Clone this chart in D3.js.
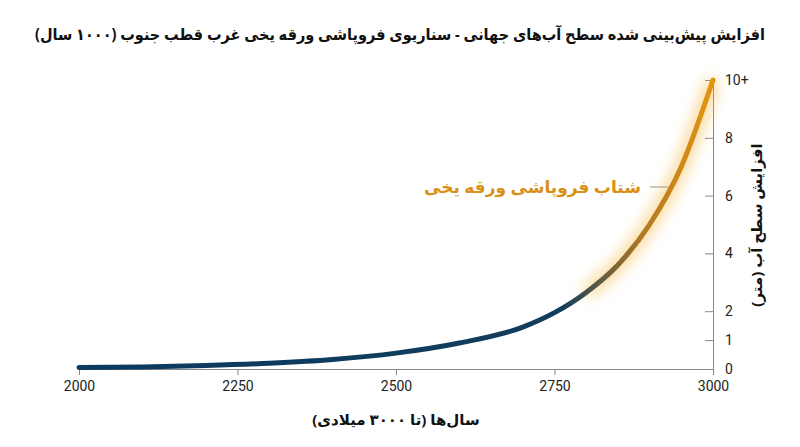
<!DOCTYPE html>
<html><head><meta charset="utf-8">
<script src="https://cdn.jsdelivr.net/npm/d3@7"></script>
<style>
body{margin:0;background:#fff;}
text{font-family:"Noto Sans","DejaVu Sans",sans-serif;}
</style></head>
<body><svg id="chart" width="800" height="447"></svg>
<script>
// data
var years = [2000,2100,2200,2300,2400,2500,2600,2700,2750,2800,2850,2900,2950,3000];
var rise = [0.05,0.07,0.12,0.2,0.33,0.55,0.9,1.45,1.95,2.65,3.6,5.0,7.0,10];
var xTicks = [2000,2250,2500,2750,3000];
var yTicks = [0,1,2,4,6,8,10];
var yTickLabels = ['0','1','2','4','6','8','10+'];

var svg = d3.select('#chart');
var x = d3.scaleLinear().domain([2000,3000]).range([79,713]);
var y = d3.scaleLinear().domain([0,10]).range([369,80]);

var title = svg.append('text').attr('x',400).attr('y',40).attr('text-anchor','middle')
	.attr('direction','rtl').style('font-size','16px').style('font-weight','bold').attr('fill','#111')
	.text('افزایش پیش‌بینی شده سطح آب‌های جهانی - سناریوی فروپاشی ورقه یخی غرب قطب جنوب (۱۰۰۰ سال)');
if (title.node().getComputedTextLength() > 730)
	title.attr('textLength',730).attr('lengthAdjust','spacingAndGlyphs');

// axes
var gx = svg.append('g').attr('transform','translate(0,369)')
	.call(d3.axisBottom(x).tickValues(xTicks).tickFormat(d3.format('d')).tickSize(6).tickPadding(6));
var gy = svg.append('g').attr('transform','translate(713,0)')
	.call(d3.axisRight(y).tickValues(yTicks).tickFormat(function(d,i){ return yTickLabels[i]; }).tickSize(-8).tickPadding(12));
[gx,gy].forEach(function(g){
	g.select('.domain').attr('stroke','#888');
	g.selectAll('.tick line').attr('stroke','#888');
	g.selectAll('.tick text').style('font-size','14px').attr('fill','#222').style('font-family','Roboto');
});

svg.append('text').attr('x',396).attr('y',425).attr('text-anchor','middle').attr('direction','rtl')
	.style('font-size','15px').style('font-weight','bold').attr('fill','#111')
	.text('سال‌ها (تا ۳۰۰۰ میلادی)');
svg.append('text').attr('transform','translate(762,225) rotate(-90)').attr('text-anchor','middle').attr('direction','rtl')
	.style('font-size','15px').style('font-weight','bold').attr('fill','#111')
	.text('افزایش سطح آب (متر)');

// gradient + glow
var defs = svg.append('defs');
var grad = defs.append('linearGradient').attr('id','lineGrad').attr('gradientUnits','userSpaceOnUse')
	.attr('x1',x(2000)).attr('x2',x(3000)).attr('y1',0).attr('y2',0);
grad.append('stop').attr('offset','0%').attr('stop-color','#0c3a5f');
grad.append('stop').attr('offset','76%').attr('stop-color','#123d5c');
grad.append('stop').attr('offset','89%').attr('stop-color','#b27a26');
grad.append('stop').attr('offset','100%').attr('stop-color','#e4950e');
defs.append('filter').attr('id','glow').attr('x','-50%').attr('y','-50%').attr('width','200%').attr('height','200%')
	.append('feGaussianBlur').attr('stdDeviation',7);

var line = d3.line().x(function(d,i){ return x(years[i]); }).y(function(d){ return y(d); }).curve(d3.curveMonotoneX);
var glowIdx = years.map(function(d,i){return i;}).filter(function(i){ return years[i] >= 2800; });
svg.append('path').attr('d', d3.line().x(function(i){return x(years[i]);}).y(function(i){return y(rise[i]);}).curve(d3.curveMonotoneX)(glowIdx))
	.attr('fill','none').attr('stroke','#f5b436').attr('stroke-width',14).attr('opacity',0.5).attr('filter','url(#glow)');
svg.append('path').attr('d', line(rise)).attr('fill','none').attr('stroke','url(#lineGrad)')
	.attr('stroke-width',5).attr('stroke-linecap','round');

// annotation
svg.append('line').attr('x1',650).attr('x2',668).attr('y1',187).attr('y2',187).attr('stroke','#999');
svg.append('text').attr('x',641).attr('y',193).attr('text-anchor','start').attr('direction','rtl')
	.style('font-size','17px').style('font-weight','bold').attr('fill','#d99016')
	.text('شتاب فروپاشی ورقه یخی');
</script></body></html>
